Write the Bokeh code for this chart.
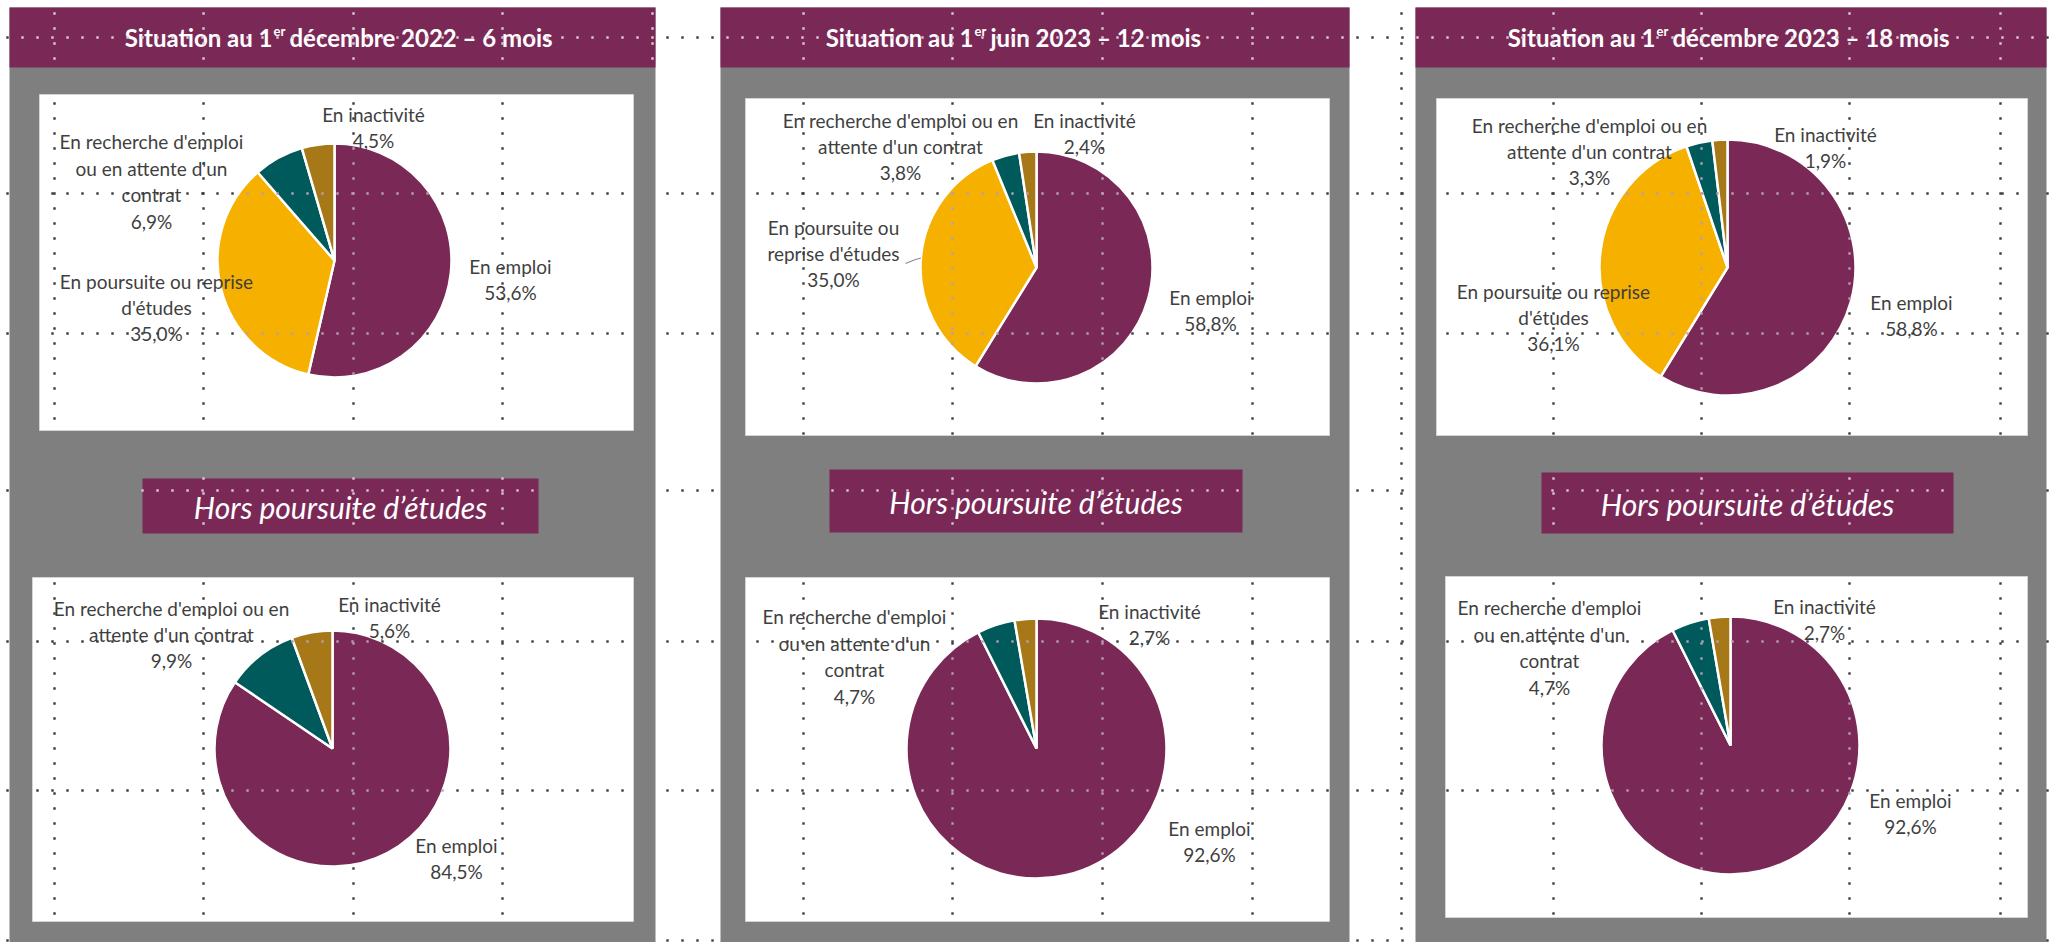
import numpy as np
from bokeh.plotting import figure
from bokeh.models import Range1d
from bokeh.core.properties import value
from bokeh.embed import file_html
from bokeh.resources import INLINE

# ---------------- DATA ----------------
period_left = ["Situation au 1", "Situation au 1", "Situation au 1"]
period_sup = ["er", "er", "er"]
period_right = ["décembre 2022 – 6 mois", "juin 2023 – 12 mois", "décembre 2023 – 18 mois"]
subtitle = "Hors poursuite d’études"

cat_top = ["En emploi", "En poursuite ou reprise d'études",
           "En recherche d'emploi ou en attente d'un contrat", "En inactivité"]
cat_bottom = ["En emploi", "En recherche d'emploi ou en attente d'un contrat", "En inactivité"]

top_6m = [53.6, 35.0, 6.9, 4.5]
top_12m = [58.8, 35.0, 3.8, 2.4]
top_18m = [58.8, 36.1, 3.3, 1.9]
bottom_6m = [84.5, 9.9, 5.6]
bottom_12m = [92.6, 4.7, 2.7]
bottom_18m = [92.6, 4.7, 2.7]

# label wrapping as displayed in each chart
wrap_top = [
    ["En emploi", "En poursuite ou reprise\nd'études", "En recherche d'emploi\nou en attente d'un\ncontrat", "En inactivité"],
    ["En emploi", "En poursuite ou\nreprise d'études", "En recherche d'emploi ou en\nattente d'un contrat", "En inactivité"],
    ["En emploi", "En poursuite ou reprise\nd'études", "En recherche d'emploi ou en\nattente d'un contrat", "En inactivité"],
]
wrap_bottom = [
    ["En emploi", "En recherche d'emploi ou en\nattente d'un contrat", "En inactivité"],
    ["En emploi", "En recherche d'emploi\nou en attente d'un\ncontrat", "En inactivité"],
    ["En emploi", "En recherche d'emploi\nou en attente d'un\ncontrat", "En inactivité"],
]

# ---------------- STYLE / LAYOUT (screen pixels) ----------------
PURPLE = "#7A2957"
COLORS_TOP = ["#7A2957", "#F5B000", "#005A5B", "#A67818"]
COLORS_BOTTOM = ["#7A2957", "#005A5B", "#A67818"]
GRAY = "#7F7F7F"
LABEL_COLOR = "#3f3f3f"
FONT = "Lato"

panels = [(9, 655), (720, 1349), (1415, 2046)]
title_bar = (7, 67)
title_x0 = [272, 973, 1655]
white_top = [(39, 633, 94, 430), (745, 1329, 98, 435), (1436, 2027, 98, 435)]
sub_bars = [(142, 538, 478, 533), (829, 1242, 469, 532), (1541, 1953, 472, 533)]
white_bot = [(32, 633, 577, 921), (745, 1329, 577, 921), (1445, 2027, 576, 917)]

pie_top = [(334, 260, 117), (1036, 267, 116), (1727, 267, 128)]
pie_bot = [(332, 748, 118), (1036, 748, 130), (1730, 745, 129)]

lab_top = [
    [(176, 19), (-178, 47), (-183, -79), (39, -133)],
    [(174, 43), (-203, -14), (-136, -121), (48, -134)],
    [(184, 48), (-174, 50), (-138, -116), (98, -120)],
]
lab_bot = [
    [(124, 110), (-161, -114), (57, -131)],
    [(173, 93), (-182, -92), (113, -124)],
    [(180, 68), (-181, -98), (94, -126)],
]

grid_x = [54, 203, 353, 502, 652, 803, 952, 1102, 1252, 1401, 1553, 1701, 1849, 2000]
grid_y = [37, 193, 333, 490, 641, 790, 940]

W, H = 2049, 942
p = figure(width=W, height=H, x_range=Range1d(0, W), y_range=Range1d(-H, 0),
           output_backend="svg", toolbar_location=None, min_border=0,
           x_axis_type=None, y_axis_type=None)
p.outline_line_color = None
p.background_fill_color = "white"
p.border_fill_color = "white"
p.xgrid.visible = False
p.ygrid.visible = False


def Y(v):
    return -v


# gray panels
p.quad(left=[a for a, b in panels], right=[b for a, b in panels],
       top=[Y(title_bar[0])] * 3, bottom=[Y(960)] * 3, fill_color=GRAY, line_color=None)
# title bars
p.quad(left=[a for a, b in panels], right=[b for a, b in panels],
       top=[Y(title_bar[0])] * 3, bottom=[Y(title_bar[1])] * 3, fill_color=PURPLE, line_color=None)
# white chart boxes
for boxes in (white_top, white_bot):
    p.quad(left=[b[0] for b in boxes], right=[b[1] for b in boxes],
           top=[Y(b[2]) for b in boxes], bottom=[Y(b[3]) for b in boxes],
           fill_color="white", line_color="#d4d4d4", line_width=1)
# subtitle bars
p.quad(left=[b[0] for b in sub_bars], right=[b[1] for b in sub_bars],
       top=[Y(b[2]) for b in sub_bars], bottom=[Y(b[3]) for b in sub_bars],
       fill_color=PURPLE, line_color=None)

# titles
ty = 37
for i in range(3):
    x0 = title_x0[i]
    p.text(x=[x0], y=[Y(ty)], text=[period_left[i]], text_font=value(FONT), text_font_style="bold",
           text_font_size="24px", text_color="white", text_align="right", text_baseline="middle")
    p.text(x=[x0 + 1], y=[Y(ty - 7)], text=[period_sup[i]], text_font=value(FONT), text_font_style="bold",
           text_font_size="13px", text_color="white", text_align="left", text_baseline="middle")
    p.text(x=[x0 + 17], y=[Y(ty)], text=[period_right[i]], text_font=value(FONT), text_font_style="bold",
           text_font_size="24px", text_color="white", text_align="left", text_baseline="middle")

# subtitles
p.text(x=[(b[0] + b[1]) / 2 for b in sub_bars], y=[Y((b[2] + b[3]) / 2 + 1) for b in sub_bars],
       text=[subtitle] * 3, text_font=value(FONT), text_font_style="italic",
       text_font_size="30px", text_color="white", text_align="center", text_baseline="middle")


def fmt(v):
    return f"{v:.1f}".replace(".", ",") + "%"


def draw_pie(center, vals, colors, names, offsets):
    cx, cy, r = center
    vals = np.array(vals, dtype=float)
    frac = vals / vals.sum()
    cum = np.concatenate([[0], np.cumsum(frac)])
    start = np.pi / 2 - cum[:-1] * 2 * np.pi
    end = np.pi / 2 - cum[1:] * 2 * np.pi
    p.wedge(x=[cx] * len(vals), y=[Y(cy)] * len(vals), radius=r,
            start_angle=start, end_angle=end, direction="clock",
            fill_color=colors, line_color="white", line_width=2.5)
    labels = [f"{n}\n{fmt(v)}" for n, v in zip(names, vals)]
    p.text(x=[cx + o[0] for o in offsets], y=[Y(cy + o[1]) for o in offsets], text=labels,
           text_font=value(FONT), text_font_size="19px", text_color=LABEL_COLOR,
           text_align="center", text_baseline="middle", text_line_height=1.15)
    return cum


datas_top = [top_6m, top_12m, top_18m]
datas_bot = [bottom_6m, bottom_12m, bottom_18m]
for i in range(3):
    cum = draw_pie(pie_top[i], datas_top[i], COLORS_TOP, wrap_top[i], lab_top[i])
    if i == 1:
        # leader line for "En poursuite ou reprise d'études"
        cx, cy, r = pie_top[i]
        mid = (cum[1] + cum[2]) / 2 * 2 * np.pi
        ex, ey = cx + r * np.sin(mid), cy - r * np.cos(mid)
        lx, ly = cx + lab_top[i][1][0], cy + lab_top[i][1][1]
        p.line(x=[lx + 72, lx + 82, ex], y=[Y(ly + 10), Y(ly + 6), Y(ey)], line_color="#8c8c8c", line_width=1.2)
    draw_pie(pie_bot[i], datas_bot[i], COLORS_BOTTOM, wrap_bottom[i], lab_bot[i])

# ---------------- PowerPoint-like dotted guides ----------------
def inside(x, y, r):
    return r[0] <= x <= r[1] and r[2] <= y <= r[3]


all_pies = pie_top + pie_bot
purple_rects = [(a, b, title_bar[0], title_bar[1]) for a, b in panels] + list(sub_bars)
white_rects = list(white_top) + list(white_bot)
gray_rects = [(a, b, title_bar[0], 960) for a, b in panels]


def dot_color(x, y):
    for (cx, cy, r) in all_pies:
        if (x - cx) ** 2 + (y - cy) ** 2 <= r * r:
            return "#b79fb0"
    for rr in white_rects:
        if inside(x, y, rr):
            return "#3c3c3c"
    for rr in purple_rects:
        if inside(x, y, rr):
            return "#d9c9d3"
    for rr in gray_rects:
        if inside(x, y, rr):
            return None
    return "#3c3c3c"


dx, dy, dc = [], [], []
for gx in grid_x:
    for yy in np.arange(13, 942, 15):
        c = dot_color(gx, yy)
        if c:
            dx.append(gx); dy.append(Y(yy)); dc.append(c)
for gy in grid_y:
    for xx in np.arange(7, 2049, 15):
        c = dot_color(xx, gy)
        if c:
            dx.append(xx); dy.append(Y(gy)); dc.append(c)
p.scatter(x=dx, y=dy, marker="square", size=2.4, fill_color=dc, line_color=None)

open("out.html", "w").write(file_html(p, INLINE))
